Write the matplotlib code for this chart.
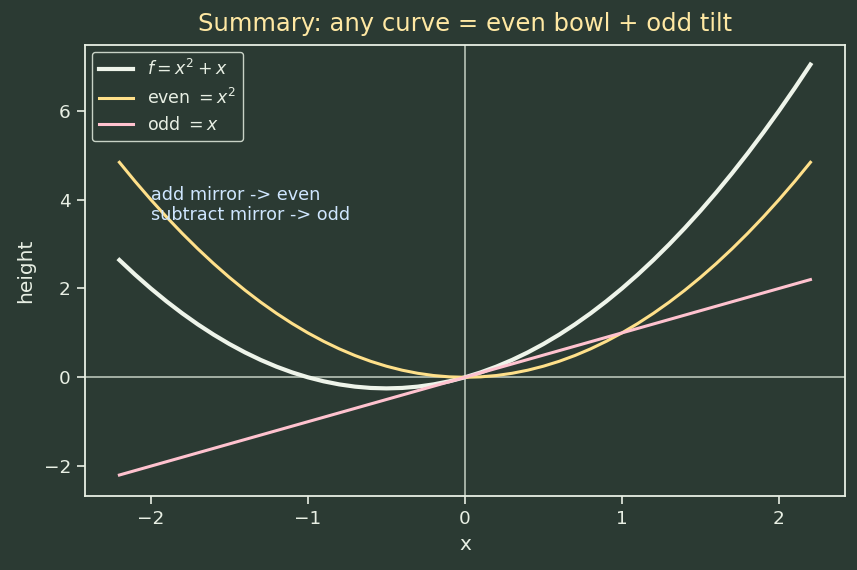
import matplotlib
matplotlib.use("Agg")
import matplotlib.pyplot as plt

plt.rcParams['font.family'] = ['DejaVu Sans']

# значения (шаг 0.1)
x = [-2.2, -2.1, -2.0, -1.9, -1.8, -1.7, -1.6, -1.5, -1.4, -1.3, -1.2, -1.1,
     -1.0, -0.9, -0.8, -0.7, -0.6, -0.5, -0.4, -0.3, -0.2, -0.1, 0.0,
     0.1, 0.2, 0.3, 0.4, 0.5, 0.6, 0.7, 0.8, 0.9, 1.0, 1.1, 1.2, 1.3,
     1.4, 1.5, 1.6, 1.7, 1.8, 1.9, 2.0, 2.1, 2.2]
even = [4.84, 4.41, 4.0, 3.61, 3.24, 2.89, 2.56, 2.25, 1.96, 1.69, 1.44, 1.21,
        1.0, 0.81, 0.64, 0.49, 0.36, 0.25, 0.16, 0.09, 0.04, 0.01, 0.0,
        0.01, 0.04, 0.09, 0.16, 0.25, 0.36, 0.49, 0.64, 0.81, 1.0, 1.21, 1.44, 1.69,
        1.96, 2.25, 2.56, 2.89, 3.24, 3.61, 4.0, 4.41, 4.84]
odd = [-2.2, -2.1, -2.0, -1.9, -1.8, -1.7, -1.6, -1.5, -1.4, -1.3, -1.2, -1.1,
       -1.0, -0.9, -0.8, -0.7, -0.6, -0.5, -0.4, -0.3, -0.2, -0.1, 0.0,
       0.1, 0.2, 0.3, 0.4, 0.5, 0.6, 0.7, 0.8, 0.9, 1.0, 1.1, 1.2, 1.3,
       1.4, 1.5, 1.6, 1.7, 1.8, 1.9, 2.0, 2.1, 2.2]
f = [2.64, 2.31, 2.0, 1.71, 1.44, 1.19, 0.96, 0.75, 0.56, 0.39, 0.24, 0.11,
     0.0, -0.09, -0.16, -0.21, -0.24, -0.25, -0.24, -0.21, -0.16, -0.09, 0.0,
     0.11, 0.24, 0.39, 0.56, 0.75, 0.96, 1.19, 1.44, 1.71, 2.0, 2.31, 2.64, 2.99,
     3.36, 3.75, 4.16, 4.59, 5.04, 5.51, 6.0, 6.51, 7.04]

bg = "#2b3a33"
fg = "#e8efe4"

fig = plt.figure(figsize=(8.57, 5.70), dpi=100, facecolor=bg)
ax = fig.add_axes([0.099, 0.130, 0.887, 0.791], facecolor=bg)

ax.axhline(0, color="#b8c4b8", lw=1.2, zorder=1)
ax.axvline(0, color="#b8c4b8", lw=1.2, zorder=1)

ax.plot(x, f, color="#eef4ea", lw=3, label=r"$f = x^2 + x$", zorder=3)
ax.plot(x, even, color="#ffe08a", lw=2.2, label=r"even $= x^2$", zorder=3)
ax.plot(x, odd, color="#ffc2cf", lw=2.2, label=r"odd $= x$", zorder=3)

ax.text(-2.0, 3.45, "add mirror -> even\nsubtract mirror -> odd",
        color="#cfe6ff", fontsize=12.7, va="bottom", ha="left", zorder=4,
        linespacing=1.15)

ax.set_xlim(-2.42, 2.42)
ax.set_ylim(-2.67, 7.48)
ax.set_xticks([-2, -1, 0, 1, 2])
ax.set_yticks([-2, 0, 2, 4, 6])
ax.set_xticklabels(["\u22122", "\u22121", "0", "1", "2"])
ax.set_yticklabels(["\u22122", "0", "2", "4", "6"])

ax.set_title("Summary: any curve = even bowl + odd tilt", color="#ffe8a3",
             fontsize=17.5, pad=10)
ax.set_xlabel("x", color=fg, fontsize=14.5, labelpad=5)
ax.set_ylabel("height", color=fg, fontsize=14.5, labelpad=6)
ax.tick_params(colors=fg, labelsize=13.3, length=5.5, width=1.2, pad=4.5)
for s in ax.spines.values():
    s.set_color(fg)
    s.set_linewidth(1.3)

leg = ax.legend(loc="upper left", facecolor=bg, edgecolor="#c8d2c6", fontsize=12.5,
                framealpha=1, borderaxespad=0.4)
for t in leg.get_texts():
    t.set_color(fg)

fig.savefig("out.png", dpi=100, facecolor=bg)
